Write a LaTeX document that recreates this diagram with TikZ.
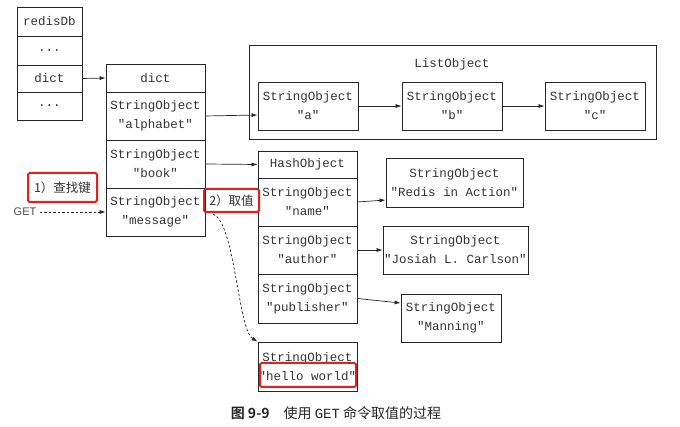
\documentclass[tikz,border=0pt]{standalone}
\usepackage{fontspec}
\setmonofont{Liberation Mono}
\setsansfont{Liberation Sans}
\newfontfamily\cjk[BoldFont={Noto Sans CJK SC Bold}]{Noto Sans CJK SC}
\usetikzlibrary{arrows.meta,calc}
\begin{document}
\begin{tikzpicture}[x=1pt,y=-1pt,
  box/.style={draw=black!85,line width=0.8pt,inner sep=0pt,align=center,
    font=\ttfamily\fontsize{12.5}{19}\selectfont,text=black!80},
  arr/.style={-{Latex[length=6pt,width=4pt]},line width=0.7pt,draw=black!85},
  darr/.style={arr,dash pattern=on 2.5pt off 2pt},
  redbox/.style={draw={rgb,255:red,230;green,30;blue,30},line width=2pt,rounded corners=1.5pt,inner sep=0pt,
    font=\cjk\fontsize{12.5}{15}\selectfont,text=black!80}]
\useasboundingbox (0,0) rectangle (680,427);
% redisDb
\node[box,minimum width=65pt,minimum height=29pt] (r1) at (49.5,21.5) {redisDb};
\node[box,minimum width=65pt,minimum height=29pt] (r2) at (49.5,50.5) {...};
\node[box,minimum width=65pt,minimum height=27pt] (r3) at (49.5,78.5) {dict};
\node[box,minimum width=65pt,minimum height=28pt] (r4) at (49.5,106) {...};
% dict
\node[box,minimum width=99pt,minimum height=28pt] (d0) at (155.5,78) {dict};
\node[box,minimum width=99pt,minimum height=48pt] (d1) at (155.5,116) {StringObject\\"alphabet"};
\node[box,minimum width=99pt,minimum height=48pt] (d2) at (155.5,164) {StringObject\\"book"};
\node[box,minimum width=99pt,minimum height=48pt] (d3) at (155.5,212) {StringObject\\"message"};
% ListObject
\node[box,minimum width=407pt,minimum height=94pt] (lo) at (452.5,92) {};
\node[font=\ttfamily\fontsize{12.5}{15}\selectfont,text=black!80] (lol) at (452,64) {ListObject};
\node[box,minimum width=100pt,minimum height=48pt] (la) at (308,106) {StringObject\\"a"};
\node[box,minimum width=100pt,minimum height=48pt] (lb) at (452,106) {StringObject\\"b"};
\node[box,minimum width=100pt,minimum height=48pt] (lc) at (595,106) {StringObject\\"c"};
% HashObject
\node[box,minimum width=99pt,minimum height=27pt] (h0) at (307.5,164.5) {HashObject};
\node[box,minimum width=99pt,minimum height=48pt] (h1) at (307.5,202) {StringObject\\"name"};
\node[box,minimum width=99pt,minimum height=48pt] (h2) at (307.5,250) {StringObject\\"author"};
\node[box,minimum width=99pt,minimum height=49pt] (h3) at (307.5,298.5) {StringObject\\"publisher"};
% values
\node[box,minimum width=137pt,minimum height=49pt] (v1) at (454.5,182.5) {StringObject\\"Redis in Action"};
\node[box,minimum width=145pt,minimum height=48pt] (v2) at (455.5,250) {StringObject\\"Josiah L. Carlson"};
\node[box,minimum width=100pt,minimum height=48pt] (v3) at (451,318) {StringObject\\"Manning"};
\node[box,minimum width=99pt,minimum height=49pt] (hw) at (307.5,366.5) {StringObject\\"hello world"};
% labels
\node[font=\sffamily\fontsize{11}{13}\selectfont,text=black!70] (get) at (25,212) {GET};
\node[redbox,minimum width=69pt,minimum height=29pt] (l1) at (62.5,187.5) {1）查找键};
\node[redbox,minimum width=55pt,minimum height=23pt] (l2) at (231.5,200.5) {2）取值};
\node[redbox,minimum width=96pt,minimum height=24pt] (hwl) at (308,375) {};
% arrows
\draw[arr] (r3.east) -- (d0.west);
\draw[arr] (d1.east) -- ([yshift=-9pt]la.west);
\draw[arr] (la.east) -- (lb.west);
\draw[arr] (lb.east) -- (lc.west);
\draw[arr] (d2.east) -- (h0.west);
\draw[arr] (h1.east) -- ([yshift=-17.5pt]v1.west);
\draw[arr] (h2.east) -- (v2.west);
\draw[arr] (h3.east) -- ([yshift=15pt]v3.west);
\draw[darr] (get.east) -- (d3.west);
\draw[darr] ([xshift=10pt,yshift=-1pt]l2.south west) .. controls (235,222) and (238,330) .. (hw.north west);
% caption
\node[font=\cjk\fontsize{14}{16}\selectfont,text=black!85] (cap) at (336,413) {{\bfseries 图 9-9}\quad 使用 {\ttfamily GET} 命令取值的过程};
\end{tikzpicture}
\end{document}
